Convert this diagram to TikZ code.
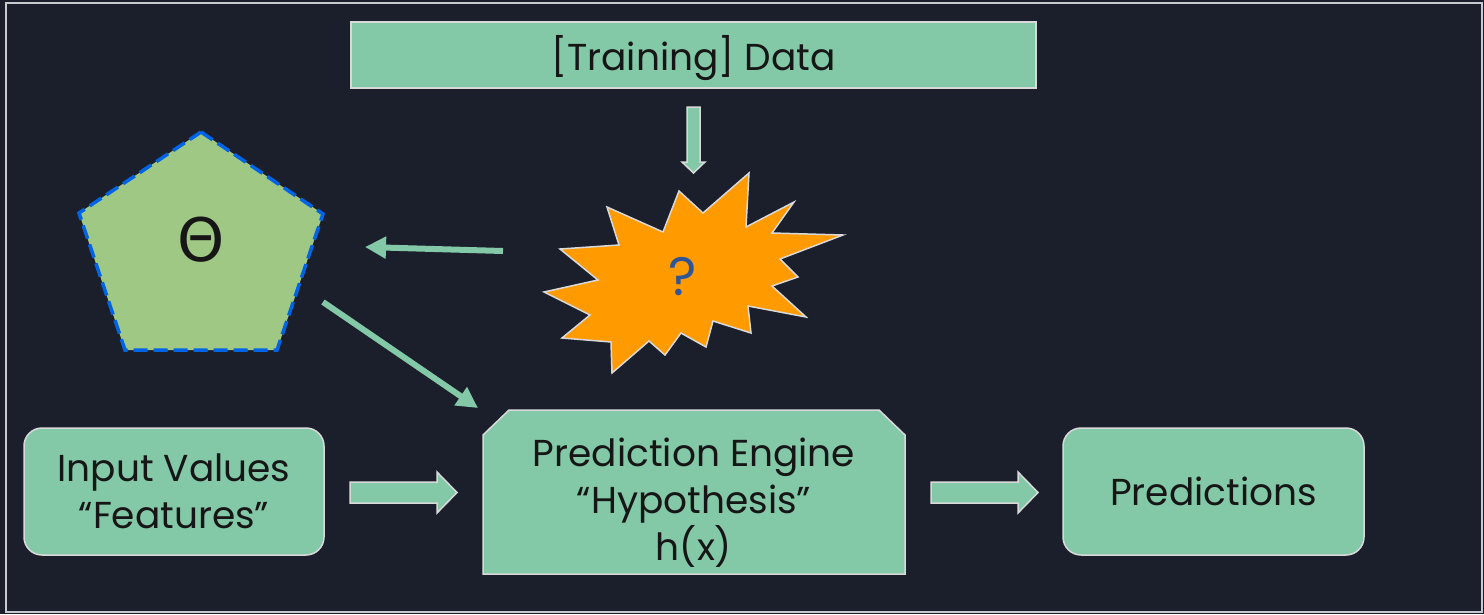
\documentclass[tikz,border=0pt]{standalone}
\usepackage{fontspec}
\setmainfont{Poppins}
\newfontfamily\symfont{DejaVu Sans}
\usetikzlibrary{arrows.meta}

\definecolor{bgnavy}{HTML}{1B1F2B}
\definecolor{framegray}{HTML}{C9CACF}
\definecolor{mint}{HTML}{83C8A7}
\definecolor{edgegray}{HTML}{D9D9D9}
\definecolor{sage}{HTML}{A0C885}
\definecolor{dashblue}{HTML}{0064E6}
\definecolor{burst}{HTML}{FF9A00}
\definecolor{qblue}{HTML}{2F5597}
\definecolor{inkblack}{HTML}{161616}

\tikzset{
  box/.style={fill=mint, draw=edgegray, line width=1.5pt, text=inkblack,
              align=center, inner sep=0pt},
  roundbox/.style={box, rounded corners=18pt},
  label/.style={text=inkblack, align=center, inner sep=0pt},
  blockarrow/.style={fill=mint, draw=edgegray, line width=1.5pt},
  thinarrow/.style={draw=mint, line width=6pt,
                    -{Triangle[length=21pt,width=21pt]}},
  pentagon/.style={fill=sage, draw=dashblue, line width=3.5pt,
                   dash pattern=on 14pt off 6pt},
  starburst/.style={fill=burst, draw=edgegray, line width=1.5pt},
  % horizontal block arrow, 107 long, starting at the pic origin
  rblock/.pic={
    \draw[blockarrow] (0,-10.5) -- (87,-10.5) -- (87,-20.5) -- (107,0)
      -- (87,20.5) -- (87,10.5) -- (0,10.5) -- cycle;
  },
  % vertical block arrow, 66 long, pointing down from the pic origin
  dblock/.pic={
    \draw[blockarrow] (-6.5,0) -- (6.5,0) -- (6.5,55) -- (11.5,55)
      -- (0,66) -- (-11.5,55) -- (-6.5,55) -- cycle;
  }
}

\begin{document}
\begin{tikzpicture}[x=1pt,y=-1pt,font=\fontsize{37.5}{47}\selectfont]
  % canvas and frame
  \fill[bgnavy] (0,0) rectangle (1484,614);
  \useasboundingbox (0,0) rectangle (1484,614);
  \draw[framegray, line width=2pt] (6,3) rectangle (1482,612);

  % training data
  \node[box, minimum width=685pt, minimum height=66pt] (data) at (693.5,55) {};
  \node[label] (datatext) at (693.5,58) {[Training] Data};
  \coordinate (datadown) at (693.5,107);
  \pic at (datadown) {dblock};

  % the unknown learning step
  \draw[starburst] (749,173) -- (703,213) -- (679,191) -- (663,232)
    -- (607,207) -- (619,245) -- (560,249) -- (598,280) -- (544,292)
    -- (590,315) -- (562,338) -- (611,342) -- (612,373) -- (649,341)
    -- (665,355) -- (681,333) -- (706,347) -- (713,321) -- (751,333)
    -- (748,306) -- (806,317) -- (772,286) -- (798,277) -- (780,259)
    -- (843,235) -- (772,233) -- (794,202) -- (746,227) -- cycle;
  \node[text=qblue, inner sep=0pt, font=\fontsize{54}{54}\selectfont] (learn)
    at (683,277) {?};

  % parameters
  \draw[pentagon] (201,132) -- (323,214) -- (277,350) -- (125,350)
    -- (79,213) -- cycle;
  \node[text=inkblack, inner sep=0pt,
        font=\symfont\fontsize{60}{60}\selectfont] (theta)
    at (201,240) {Θ};

  % prediction engine (top corners cut off)
  \draw[box] (483,435) -- (509,410) -- (879,410) -- (905,435) -- (905,574)
    -- (483,574) -- cycle;
  \node[label] (engine) at (694,503)
    {Prediction Engine\\“Hypothesis”\\h(x)};

  % inputs and outputs
  \node[roundbox, minimum width=300pt, minimum height=127pt] (inputs)
    at (174,491.5) {Input Values\\“Features”};
  \node[roundbox, minimum width=301pt, minimum height=127pt] (preds)
    at (1213.5,491.5) {Predictions};

  \coordinate (in2eng) at (350,492.5);
  \coordinate (eng2out) at (931,492.5);
  \pic at (in2eng) {rblock};
  \pic at (eng2out) {rblock};

  % learned parameters feed the engine
  \coordinate (learnout) at (503,251);
  \coordinate (thetain) at (365,247);
  \coordinate (thetaout) at (323,302);
  \coordinate (enginein) at (478,408);
  \draw[thinarrow] (learnout) -- (thetain);
  \draw[thinarrow] (thetaout) -- (enginein);
\end{tikzpicture}
\end{document}
